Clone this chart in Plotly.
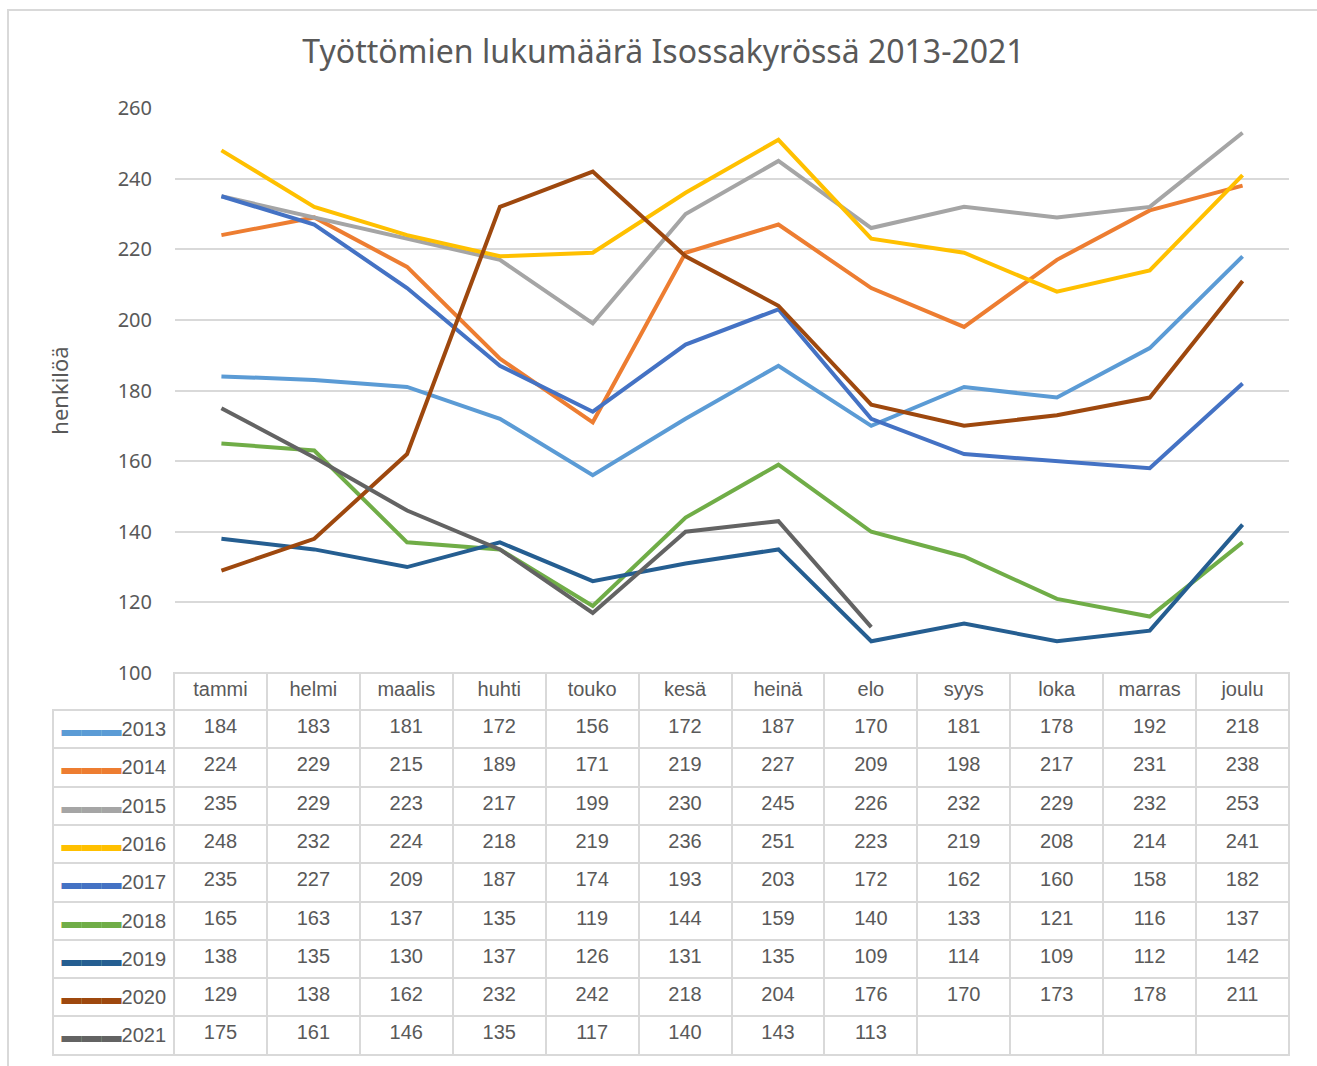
"""Työttömien lukumäärä Isossakyrössä 2013-2021 - line chart with data table."""

import plotly.graph_objects as go

W, H = 1317, 1066

months = ["tammi", "helmi", "maalis", "huhti", "touko", "kesä",
          "heinä", "elo", "syys", "loka", "marras", "joulu"]

years = ["2013", "2014", "2015", "2016", "2017", "2018", "2019", "2020", "2021"]

v2013 = [184, 183, 181, 172, 156, 172, 187, 170, 181, 178, 192, 218]
v2014 = [224, 229, 215, 189, 171, 219, 227, 209, 198, 217, 231, 238]
v2015 = [235, 229, 223, 217, 199, 230, 245, 226, 232, 229, 232, 253]
v2016 = [248, 232, 224, 218, 219, 236, 251, 223, 219, 208, 214, 241]
v2017 = [235, 227, 209, 187, 174, 193, 203, 172, 162, 160, 158, 182]
v2018 = [165, 163, 137, 135, 119, 144, 159, 140, 133, 121, 116, 137]
v2019 = [138, 135, 130, 137, 126, 131, 135, 109, 114, 109, 112, 142]
v2020 = [129, 138, 162, 232, 242, 218, 204, 176, 170, 173, 178, 211]
v2021 = [175, 161, 146, 135, 117, 140, 143, 113, None, None, None, None]

series = [v2013, v2014, v2015, v2016, v2017, v2018, v2019, v2020, v2021]
colors = ["#5B9BD5", "#ED7D31", "#A5A5A5", "#FFC000", "#4472C4",
          "#70AD47", "#255E91", "#9E480E", "#636363"]

FONT = "Noto Sans"
TFONT = "Liberation Sans"
TXT = "#595959"
GRID = "#d9d9d9"


def px_x(p):
    return p / W


def px_y(p):
    return 1 - p / H


fig = go.Figure()

for year, vals, col in zip(years, series, colors):
    fig.add_trace(go.Scatter(
        x=months, y=vals, name=year, mode="lines",
        line=dict(color=col, width=4), connectgaps=False,
        showlegend=False, xaxis="x", yaxis="y",
    ))

# legend key + year in the first table column. The table splits cell text on
# spaces for wrapping but leaves '<a href=' alone, so the colour goes there.
first_col = [f'<a href="x"style="color:{c}">▬▬▬</a>{y}' for y, c in zip(years, colors)]
cols = [first_col]
for i in range(len(months)):
    cols.append(["" if s[i] is None else str(s[i]) for s in series])

fig.add_trace(go.Table(
    domain=dict(x=[px_x(53), px_x(1289)], y=[px_y(1062), px_y(673)]),
    columnwidth=[121] + [92.9] * 12,
    header=dict(
        values=[""] + months,
        height=37,
        align="center",
        fill_color=["rgba(0,0,0,0)"] + ["white"] * 12,
        line=dict(color=["rgba(0,0,0,0)"] + [GRID] * 12, width=2),
        font=dict(family=TFONT, size=20, color=TXT),
    ),
    cells=dict(
        values=cols,
        height=38.3,
        align=["right"] + ["center"] * 12,
        fill_color="white",
        line=dict(color=GRID, width=2),
        font=dict(family=TFONT, size=20, color=TXT),
    ),
))

fig.update_layout(
    width=W, height=H,
    autosize=False,
    margin=dict(l=0, r=0, t=0, b=0, pad=0, autoexpand=False),
    paper_bgcolor="white", plot_bgcolor="white",
    font=dict(family=FONT, color=TXT),
    title=dict(
        text="Työttömien lukumäärä Isossakyrössä 2013-2021",
        x=0.5038, xanchor="center", y=px_y(52), yanchor="middle",
        font=dict(family=FONT, size=32, color=TXT),
    ),
    xaxis=dict(
        domain=[px_x(175), px_x(1289)],
        range=[-0.5, 11.5], automargin=False,
        showticklabels=False, showgrid=False, zeroline=False,
        showline=False, ticks="",
    ),
    yaxis=dict(
        domain=[px_y(673), px_y(108)], automargin=False,
        range=[100, 260], dtick=20, tick0=100,
        showgrid=True, gridcolor=GRID, gridwidth=2,
        zeroline=False, showline=False, ticks="",
        ticklabelstandoff=22,
        tickfont=dict(family=FONT, size=20, color=TXT),
        title=dict(text="henkilöä", standoff=42,
                   font=dict(family=FONT, size=22, color=TXT)),
    ),
    shapes=[
        dict(type="rect", xref="paper", yref="paper",
             x0=px_x(8), x1=px_x(1330), y0=px_y(1080), y1=px_y(10),
             line=dict(color=GRID, width=2), fillcolor="rgba(0,0,0,0)",
             layer="below"),
    ],
)

fig.write_html(
    "out.html",
    config={"displayModeBar": False},
    post_script="document.body.style.margin='0';document.body.style.overflow='hidden';",
)
